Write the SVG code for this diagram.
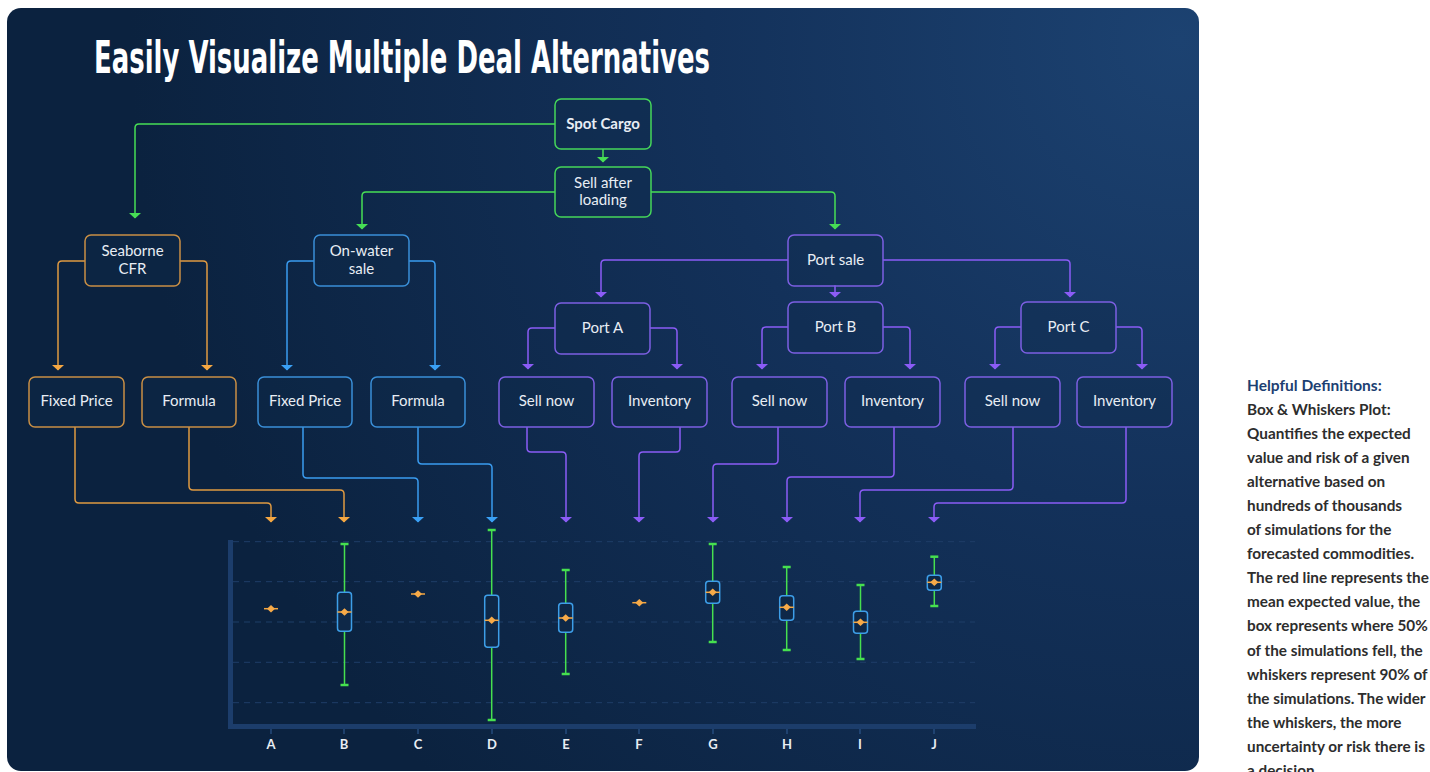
<svg xmlns="http://www.w3.org/2000/svg" width="1430" height="772" viewBox="0 0 1430 772">
<defs>
<radialGradient id="bg" gradientUnits="userSpaceOnUse" cx="1180" cy="40" r="1050">
<stop offset="0" stop-color="#1c4271"/>
<stop offset="0.45" stop-color="#13315a"/>
<stop offset="1" stop-color="#0b223f"/>
</radialGradient>
<marker id="mG" viewBox="-6 -7 7 14" markerWidth="7" markerHeight="14" refX="0" refY="0" orient="auto" markerUnits="userSpaceOnUse"><path d="M-5,-6 L0.5,0 L-5,6 Z" fill="#47de55"/></marker>
<marker id="mO" viewBox="-6 -7 7 14" markerWidth="7" markerHeight="14" refX="0" refY="0" orient="auto" markerUnits="userSpaceOnUse"><path d="M-5,-6 L0.5,0 L-5,6 Z" fill="#f5a742"/></marker>
<marker id="mB" viewBox="-6 -7 7 14" markerWidth="7" markerHeight="14" refX="0" refY="0" orient="auto" markerUnits="userSpaceOnUse"><path d="M-5,-6 L0.5,0 L-5,6 Z" fill="#3aa0f5"/></marker>
<marker id="mP" viewBox="-6 -7 7 14" markerWidth="7" markerHeight="14" refX="0" refY="0" orient="auto" markerUnits="userSpaceOnUse"><path d="M-5,-6 L0.5,0 L-5,6 Z" fill="#8b5cf6"/></marker>
<style>
.node rect{fill:#0f2a4a;fill-opacity:0.35;stroke-width:1.5}
.g rect{stroke:#45d65a}
.o rect{stroke:#c98f45}
.b rect{stroke:#3a8fd8}
.p rect{stroke:#7c5fe2}
.node text{font-family:Lato,"Noto Sans",sans-serif;font-size:15px;fill:#e8edf4;text-anchor:middle}
.c{fill:none;stroke-width:1.5}
.cg{stroke:#47de55;marker-end:url(#mG)}
.co{stroke:#e09a42;marker-end:url(#mO)}
.cb{stroke:#3a9cf0;marker-end:url(#mB)}
.cp{stroke:#8b5cf6;marker-end:url(#mP)}
.grid{stroke:#1f3e68;stroke-width:1;stroke-dasharray:6 5}
.tick{stroke:#2b548a;stroke-width:1.2}
.cat{font-family:Lato,"Noto Sans",sans-serif;font-size:13px;font-weight:700;fill:#e8edf3;text-anchor:middle}
.wh{stroke:#46e04f;stroke-width:1.5}
.cap{stroke:#46e04f;stroke-width:2.5}
.box{fill:#0e2848;stroke:#3d9ee8;stroke-width:1.5}
.mean{stroke:#f5a742;stroke-width:1.5}
.dia{fill:#f7aa48}
.def{font-family:Lato,"Noto Sans",sans-serif;font-size:15.3px;font-weight:700;fill:#2d2d2d}
.defh{font-family:Lato,"Noto Sans",sans-serif;font-size:15.5px;font-weight:700;fill:#1d3f72}
</style>
</defs>
<rect x="0" y="0" width="1430" height="772" fill="#ffffff"/>
<rect x="7" y="8" width="1192" height="763" rx="14" fill="url(#bg)"/>
<text x="94" y="73" font-family="'DejaVu Sans Condensed',Roboto,sans-serif" font-weight="700" font-size="44" fill="#ffffff" textLength="616" lengthAdjust="spacingAndGlyphs">Easily Visualize Multiple Deal Alternatives</text>

<g id="connectors">
<path class="c cg" d="M555,124 H139 Q135,124 135,128 V218"/>
<path class="c cg" d="M603,149 V162"/>
<path class="c cg" d="M555,192 H366 Q362,192 362,196 V229"/>
<path class="c cg" d="M651,192 H831 Q835,192 835,196 V229"/>
<path class="c cp" d="M788,260 H605 Q601,260 601,264 V297"/>
<path class="c cp" d="M835,285 V297"/>
<path class="c cp" d="M883,260 H1066 Q1070,260 1070,264 V297"/>
<path class="c cp" d="M555,328 H532 Q528,328 528,332 V369"/>
<path class="c cp" d="M650,328 H673 Q677,328 677,332 V369"/>
<path class="c cp" d="M788,327 H766 Q762,327 762,331 V369"/>
<path class="c cp" d="M883,327 H906 Q910,327 910,331 V369"/>
<path class="c cp" d="M1021,327 H999 Q995,327 995,331 V369"/>
<path class="c cp" d="M1116,327 H1138 Q1142,327 1142,331 V369"/>
<path class="c co" d="M85,261 H62 Q58,261 58,265 V370"/>
<path class="c co" d="M180,261 H203 Q207,261 207,265 V370"/>
<path class="c cb" d="M314,261 H291 Q287,261 287,265 V370"/>
<path class="c cb" d="M409,261 H431 Q435,261 435,265 V370"/>
<path class="c co" d="M75,427 V499 Q75,503 79,503 H267 Q271,503 271,507 V522"/>
<path class="c co" d="M189,427 V486 Q189,490 193,490 H340 Q344,490 344,494 V522"/>
<path class="c cb" d="M303,427 V474 Q303,478 307,478 H414 Q418,478 418,482 V522"/>
<path class="c cb" d="M418,427 V460 Q418,464 422,464 H488 Q492,464 492,468 V522"/>
<path class="c cp" d="M527,427 V448 Q527,452 531,452 H562 Q566,452 566,456 V522"/>
<path class="c cp" d="M680,427 V448 Q680,452 676,452 H643 Q639,452 639,456 V522"/>
<path class="c cp" d="M778,427 V460 Q778,464 774,464 H717 Q713,464 713,468 V522"/>
<path class="c cp" d="M894,427 V473 Q894,477 890,477 H791 Q787,477 787,481 V522"/>
<path class="c cp" d="M1013,427 V486 Q1013,490 1009,490 H864 Q860,490 860,494 V522"/>
<path class="c cp" d="M1126,427 V499 Q1126,503 1122,503 H938 Q934,503 934,507 V522"/>
</g>

<g id="node-spot-cargo" class="node g"><rect x="555" y="99" width="96" height="50" rx="6"/><text x="603" y="129" font-weight="700">Spot Cargo</text></g>
<g id="node-sell-after-loading" class="node g"><rect x="555" y="167" width="96" height="50" rx="6"/><text x="603" y="188">Sell after</text><text x="603" y="205">loading</text></g>
<g id="node-seaborne-cfr" class="node o"><rect x="85" y="235" width="95" height="51" rx="6"/><text x="132.5" y="256">Seaborne</text><text x="132.5" y="274">CFR</text></g>
<g id="node-on-water-sale" class="node b"><rect x="314" y="235" width="95" height="51" rx="6"/><text x="361.5" y="256">On-water</text><text x="361.5" y="274">sale</text></g>
<g id="node-port-sale" class="node p"><rect x="788" y="235" width="95" height="51" rx="6"/><text x="835.5" y="265">Port sale</text></g>
<g id="node-port-a" class="node p"><rect x="555" y="303" width="95" height="51" rx="6"/><text x="602.5" y="333">Port A</text></g>
<g id="node-port-b" class="node p"><rect x="788" y="302" width="95" height="51" rx="6"/><text x="835.5" y="332">Port B</text></g>
<g id="node-port-c" class="node p"><rect x="1021" y="302" width="95" height="51" rx="6"/><text x="1068.5" y="332">Port C</text></g>
<g id="node-fixed-price-1" class="node o"><rect x="29" y="377" width="95" height="50" rx="6"/><text x="76.5" y="406">Fixed Price</text></g>
<g id="node-formula-1" class="node o"><rect x="142" y="377" width="94" height="50" rx="6"/><text x="189" y="406">Formula</text></g>
<g id="node-fixed-price-2" class="node b"><rect x="258" y="377" width="94" height="50" rx="6"/><text x="305" y="406">Fixed Price</text></g>
<g id="node-formula-2" class="node b"><rect x="371" y="377" width="94" height="50" rx="6"/><text x="418" y="406">Formula</text></g>
<g id="node-sell-now-a" class="node p"><rect x="499" y="377" width="95" height="50" rx="6"/><text x="546.5" y="406">Sell now</text></g>
<g id="node-inventory-a" class="node p"><rect x="612" y="377" width="95" height="50" rx="6"/><text x="659.5" y="406">Inventory</text></g>
<g id="node-sell-now-b" class="node p"><rect x="732" y="377" width="95" height="50" rx="6"/><text x="779.5" y="406">Sell now</text></g>
<g id="node-inventory-b" class="node p"><rect x="845" y="377" width="95" height="50" rx="6"/><text x="892.5" y="406">Inventory</text></g>
<g id="node-sell-now-c" class="node p"><rect x="965" y="377" width="95" height="50" rx="6"/><text x="1012.5" y="406">Sell now</text></g>
<g id="node-inventory-c" class="node p"><rect x="1077" y="377" width="95" height="50" rx="6"/><text x="1124.5" y="406">Inventory</text></g>

<g id="chart">
<line class="grid" x1="233" y1="541.7" x2="975" y2="541.7"/>
<line class="grid" x1="233" y1="581.7" x2="975" y2="581.7"/>
<line class="grid" x1="233" y1="622" x2="975" y2="622"/>
<line class="grid" x1="233" y1="662.3" x2="975" y2="662.3"/>
<line class="grid" x1="233" y1="702.7" x2="975" y2="702.7"/>
<rect x="228" y="540" width="5" height="189" fill="#1c3d6b"/>
<rect x="228" y="724" width="748" height="5" fill="#1c3d6b"/>
<g>
<line class="tick" x1="271" y1="729" x2="271" y2="734"/>
<line class="tick" x1="344" y1="729" x2="344" y2="734"/>
<line class="tick" x1="418" y1="729" x2="418" y2="734"/>
<line class="tick" x1="492" y1="729" x2="492" y2="734"/>
<line class="tick" x1="566" y1="729" x2="566" y2="734"/>
<line class="tick" x1="639" y1="729" x2="639" y2="734"/>
<line class="tick" x1="713" y1="729" x2="713" y2="734"/>
<line class="tick" x1="787" y1="729" x2="787" y2="734"/>
<line class="tick" x1="860" y1="729" x2="860" y2="734"/>
<line class="tick" x1="934" y1="729" x2="934" y2="734"/>
</g>
<text class="cat" x="271" y="749">A</text>
<text class="cat" x="344" y="749">B</text>
<text class="cat" x="418" y="749">C</text>
<text class="cat" x="492" y="749">D</text>
<text class="cat" x="566" y="749">E</text>
<text class="cat" x="639" y="749">F</text>
<text class="cat" x="713" y="749">G</text>
<text class="cat" x="787" y="749">H</text>
<text class="cat" x="860" y="749">I</text>
<text class="cat" x="934" y="749">J</text>

<!-- A -->
<line class="mean" x1="264" y1="608.7" x2="278" y2="608.7"/>
<polygon class="dia" points="271,605 275,608.7 271,612.4 267,608.7"/>
<!-- B -->
<line class="wh" x1="344.5" y1="544" x2="344.5" y2="685"/>
<line class="cap" x1="340.5" y1="544" x2="348.5" y2="544"/>
<line class="cap" x1="340.5" y1="685" x2="348.5" y2="685"/>
<rect class="box" x="337.5" y="592.3" width="14" height="39" rx="3"/>
<line class="mean" x1="337.5" y1="612" x2="351.5" y2="612"/>
<polygon class="dia" points="344.5,608.3 348.5,612 344.5,615.7 340.5,612"/>
<!-- C -->
<line class="mean" x1="411" y1="594" x2="425" y2="594"/>
<polygon class="dia" points="418,590.3 422,594 418,597.7 414,594"/>
<!-- D -->
<line class="wh" x1="491.7" y1="530" x2="491.7" y2="720"/>
<line class="cap" x1="487.7" y1="530" x2="495.7" y2="530"/>
<line class="cap" x1="487.7" y1="720" x2="495.7" y2="720"/>
<rect class="box" x="484.7" y="595.3" width="14" height="52" rx="3"/>
<line class="mean" x1="484.7" y1="620.3" x2="498.7" y2="620.3"/>
<polygon class="dia" points="491.7,616.6 495.7,620.3 491.7,624 487.7,620.3"/>
<!-- E -->
<line class="wh" x1="565.7" y1="570" x2="565.7" y2="674"/>
<line class="cap" x1="561.7" y1="570" x2="569.7" y2="570"/>
<line class="cap" x1="561.7" y1="674" x2="569.7" y2="674"/>
<rect class="box" x="558.7" y="603.3" width="14" height="29" rx="3"/>
<line class="mean" x1="558.7" y1="618" x2="572.7" y2="618"/>
<polygon class="dia" points="565.7,614.3 569.7,618 565.7,621.7 561.7,618"/>
<!-- F -->
<line class="mean" x1="632.3" y1="602.7" x2="646.3" y2="602.7"/>
<polygon class="dia" points="639.3,599 643.3,602.7 639.3,606.4 635.3,602.7"/>
<!-- G -->
<line class="wh" x1="712.7" y1="544" x2="712.7" y2="642"/>
<line class="cap" x1="708.7" y1="544" x2="716.7" y2="544"/>
<line class="cap" x1="708.7" y1="642" x2="716.7" y2="642"/>
<rect class="box" x="705.7" y="581.3" width="14" height="22" rx="3"/>
<line class="mean" x1="705.7" y1="592.3" x2="719.7" y2="592.3"/>
<polygon class="dia" points="712.7,588.6 716.7,592.3 712.7,596 708.7,592.3"/>
<!-- H -->
<line class="wh" x1="786.7" y1="567" x2="786.7" y2="650"/>
<line class="cap" x1="782.7" y1="567" x2="790.7" y2="567"/>
<line class="cap" x1="782.7" y1="650" x2="790.7" y2="650"/>
<rect class="box" x="779.7" y="595.7" width="14" height="24.6" rx="3"/>
<line class="mean" x1="779.7" y1="607.3" x2="793.7" y2="607.3"/>
<polygon class="dia" points="786.7,603.6 790.7,607.3 786.7,611 782.7,607.3"/>
<!-- I -->
<line class="wh" x1="860.5" y1="585" x2="860.5" y2="659"/>
<line class="cap" x1="856.5" y1="585" x2="864.5" y2="585"/>
<line class="cap" x1="856.5" y1="659" x2="864.5" y2="659"/>
<rect class="box" x="853.5" y="611.3" width="14" height="22" rx="3"/>
<line class="mean" x1="853.5" y1="622.3" x2="867.5" y2="622.3"/>
<polygon class="dia" points="860.5,618.6 864.5,622.3 860.5,626 856.5,622.3"/>
<!-- J -->
<line class="wh" x1="934.3" y1="556.7" x2="934.3" y2="606"/>
<line class="cap" x1="930.3" y1="556.7" x2="938.3" y2="556.7"/>
<line class="cap" x1="930.3" y1="606" x2="938.3" y2="606"/>
<rect class="box" x="927.3" y="575.3" width="14" height="15" rx="3"/>
<line class="mean" x1="927.3" y1="582.3" x2="941.3" y2="582.3"/>
<polygon class="dia" points="934.3,578.6 938.3,582.3 934.3,586 930.3,582.3"/>
</g>

<g id="definitions">
<text class="defh" x="1247" y="390.7">Helpful Definitions:</text>
<text class="def" x="1247" y="414.8">Box &amp; Whiskers Plot:</text>
<text class="def" x="1247" y="438.9">Quantifies the expected</text>
<text class="def" x="1247" y="462.9">value and risk of a given</text>
<text class="def" x="1247" y="487">alternative based on</text>
<text class="def" x="1247" y="511">hundreds of thousands</text>
<text class="def" x="1247" y="535.1">of simulations for the</text>
<text class="def" x="1247" y="559.2">forecasted commodities.</text>
<text class="def" x="1247" y="583.3">The red line represents the</text>
<text class="def" x="1247" y="607.3">mean expected value, the</text>
<text class="def" x="1247" y="631.4">box represents where 50%</text>
<text class="def" x="1247" y="655.5">of the simulations fell, the</text>
<text class="def" x="1247" y="679.5">whiskers represent 90% of</text>
<text class="def" x="1247" y="703.6">the simulations. The wider</text>
<text class="def" x="1247" y="727.7">the whiskers, the more</text>
<text class="def" x="1247" y="751.7">uncertainty or risk there is</text>
<text class="def" x="1247" y="775.8">a decision.</text>
</g>
</svg>
